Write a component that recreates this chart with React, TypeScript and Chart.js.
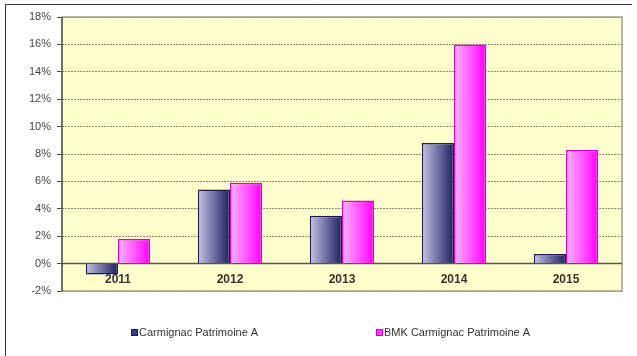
import React, { useEffect, useRef } from "react";
import { Chart, registerables } from "chart.js";

Chart.register(...registerables);

const categories = ["2011", "2012", "2013", "2014", "2015"];
const carmignac = [-0.8, 5.4, 3.5, 8.8, 0.7];
const bmk = [1.8, 5.9, 4.6, 16.0, 8.3];
const seriesNames = ["Carmignac Patrimoine A", "BMK Carmignac Patrimoine A"];
const yMin = -2;
const yMax = 18;
const yStep = 2;

const CAT_PCT = 0.575;

const makeGradient = (light: string, dark: string) => (ctx: any) => {
  const chart = ctx.chart;
  const xs = chart.scales && chart.scales.x;
  if (!xs || ctx.type !== "data" || !chart.chartArea) return dark;
  const c = xs.getPixelForValue(ctx.dataIndex);
  const w = (chart.chartArea.width / categories.length) * CAT_PCT / 2;
  const left = ctx.datasetIndex === 0 ? c - w : c;
  const g = chart.ctx.createLinearGradient(left, 0, left + w, 0);
  g.addColorStop(0, light);
  g.addColorStop(1, dark);
  return g;
};

const decorPlugin = {
  id: "decor",
  beforeDraw(chart: any) {
    const { ctx, chartArea: a } = chart;
    ctx.save();
    ctx.fillStyle = "#ffffff";
    ctx.fillRect(0, 0, chart.width, chart.height);
    // outer frame (top + left)
    ctx.strokeStyle = "#333333";
    ctx.lineWidth = 1;
    ctx.beginPath();
    ctx.moveTo(5.5, chart.height);
    ctx.lineTo(5.5, 4.5);
    ctx.lineTo(632, 4.5);
    ctx.stroke();
    // plot background
    ctx.fillStyle = "#ffffcc";
    ctx.fillRect(a.left, a.top, a.right - a.left, a.bottom - a.top);
    ctx.restore();
  },
  beforeDatasetsDraw(chart: any) {
    const { ctx, chartArea: a } = chart;
    const y = chart.scales.y;
    ctx.save();
    ctx.strokeStyle = "#a0a090";
    ctx.lineWidth = 1.5;
    ctx.strokeRect(a.left, a.top, a.right - a.left, a.bottom - a.top);
    ctx.strokeStyle = "#555555";
    ctx.lineWidth = 1.5;
    const y0 = y.getPixelForValue(0);
    ctx.beginPath();
    ctx.moveTo(a.left, y0);
    ctx.lineTo(a.right, y0);
    ctx.stroke();
    ctx.beginPath();
    ctx.moveTo(a.left, a.top);
    ctx.lineTo(a.left, a.bottom);
    ctx.stroke();
    ctx.restore();
  },
  afterDatasetsDraw(chart: any) {
    const { ctx } = chart;
    const xs = chart.scales.x;
    const ys = chart.scales.y;
    ctx.save();
    ctx.fillStyle = "#333333";
    ctx.font = "bold 12px Arial, 'Liberation Sans', sans-serif";
    ctx.textAlign = "center";
    ctx.textBaseline = "middle";
    const ly = ys.getPixelForValue(-1.2);
    categories.forEach((c, i) => {
      ctx.fillText(c, xs.getPixelForValue(i), ly);
    });
    // legend
    const colors = [
      { fill: "#3a3a8a", stroke: "#1a1a5a" },
      { fill: "#ff40ff", stroke: "#cc00cc" },
    ];
    const lx = [131, 376];
    const legY = 333;
    ctx.font = "11px Arial, 'Liberation Sans', sans-serif";
    ctx.textAlign = "left";
    seriesNames.forEach((n, i) => {
      ctx.fillStyle = colors[i].fill;
      ctx.fillRect(lx[i], legY - 3.5, 6, 6);
      ctx.strokeStyle = colors[i].stroke;
      ctx.lineWidth = 1;
      ctx.strokeRect(lx[i] + 0.5, legY - 3.5, 6, 6);
      ctx.fillStyle = "#333333";
      ctx.fillText(n, lx[i] + 8, legY);
    });
    ctx.restore();
  },
};

export default function App() {
  const ref = useRef<HTMLCanvasElement>(null);
  useEffect(() => {
    if (!ref.current) return;
    const chart = new Chart(ref.current, {
      type: "bar",
      data: {
        labels: categories,
        datasets: [
          {
            label: seriesNames[0],
            data: carmignac,
            backgroundColor: makeGradient("#c4c4e0", "#1e1e66"),
            borderColor: "#1a1a5a",
            borderWidth: 1.5,
            categoryPercentage: CAT_PCT,
            barPercentage: 1,
          },
          {
            label: seriesNames[1],
            data: bmk,
            backgroundColor: makeGradient("#ffb4ff", "#ff00ff"),
            borderColor: "#d800d8",
            borderWidth: 1.5,
            categoryPercentage: CAT_PCT,
            barPercentage: 1,
          },
        ],
      },
      options: {
        responsive: false,
        animation: false,
        devicePixelRatio: 1,
        layout: { padding: { left: 0, top: 17, right: 15, bottom: 65 } },
        plugins: {
          legend: { display: false },
          tooltip: { enabled: false },
        },
        scales: {
          x: {
            display: false,
            grid: { display: false },
          },
          y: {
            min: yMin,
            max: yMax,
            afterFit: (s: any) => {
              s.width = 62;
            },
            border: { display: false, dash: [2, 1] },
            grid: {
              color: "#8a8a7a",
              lineWidth: 1,
              tickLength: 5,
              tickColor: "#444444",
              tickBorderDash: [],
            },
            ticks: {
              stepSize: yStep,
              padding: 6,
              color: "#444444",
              font: { family: "Arial, 'Liberation Sans', sans-serif", size: 11 },
              callback: (v: any) => `${v}%`,
            },
          },
        },
      },
      plugins: [decorPlugin],
    });
    return () => chart.destroy();
  }, []);
  return (
    <div style={{ position: "fixed", left: 0, top: 0, width: 637, height: 356 }}>
      <canvas ref={ref} width={637} height={356} style={{ display: "block" }} />
    </div>
  );
}
